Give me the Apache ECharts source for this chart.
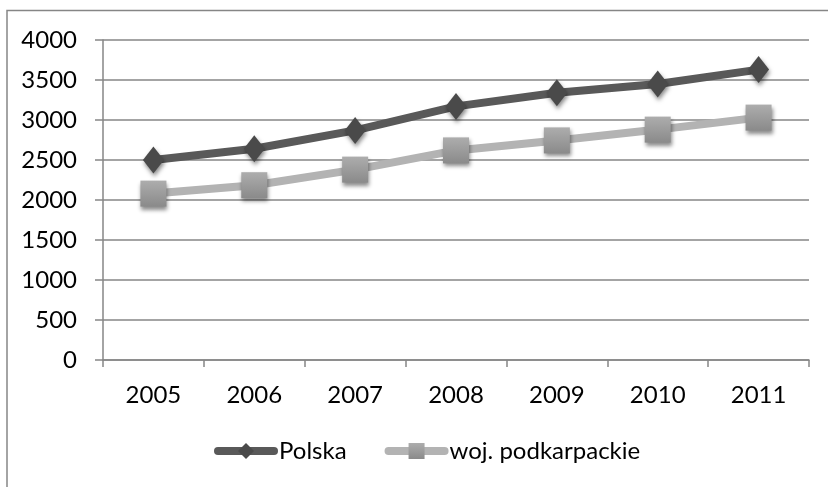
<!DOCTYPE html>
<html>
<head>
<meta charset="utf-8">
<script src="https://cdn.jsdelivr.net/npm/echarts@6/dist/echarts.min.js"></script>
<style>
  html, body { margin: 0; padding: 0; background: #fff; }
  #chart { width: 828px; height: 487px; }
</style>
</head>
<body>
<div id="chart"></div>
<script>
// data
const years = ['2005', '2006', '2007', '2008', '2009', '2010', '2011'];
const polska = [2500, 2640, 2870, 3170, 3340, 3450, 3630];
const podkarpackie = [2080, 2185, 2380, 2620, 2745, 2880, 3030];
const seriesNames = ['Polska', 'woj. podkarpackie'];

const chart = echarts.init(document.getElementById('chart'));
const font = 'Lato, "Open Sans", sans-serif';
const gridColor = '#868686';

const shadow = {
  shadowBlur: 4,
  shadowOffsetX: 1,
  shadowOffsetY: 3,
  shadowColor: 'rgba(0,0,0,0.45)'
};

chart.setOption({
  animation: false,
  backgroundColor: '#fff',
  textStyle: { fontFamily: font },
  graphic: [{
    type: 'rect',
    shape: { x: 7, y: 10.5, width: 840, height: 500 },
    style: { fill: 'none', stroke: gridColor, lineWidth: 1.5 },
    silent: true
  }],
  grid: { left: 103, right: 19, top: 40, height: 320 },
  legend: {
    left: 209,
    top: 434,
    itemWidth: 56,
    itemHeight: 20,
    itemGap: 38,
    textStyle: { fontSize: 24, color: '#000', fontFamily: font },
    data: [
      { name: seriesNames[0], lineStyle: { width: 8 } },
      { name: seriesNames[1], lineStyle: { width: 8 } }
    ]
  },
  xAxis: {
    type: 'category',
    data: years,
    boundaryGap: true,
    axisLine: { lineStyle: { color: gridColor, width: 1.5 } },
    axisTick: { show: true, length: 7, lineStyle: { color: gridColor, width: 1.5 } },
    axisLabel: { fontSize: 24, color: '#000', margin: 23 }
  },
  yAxis: {
    type: 'value',
    min: 0,
    max: 4000,
    interval: 500,
    axisLine: { show: true, lineStyle: { color: gridColor, width: 1.5 } },
    axisTick: { show: true, length: 8, lineStyle: { color: gridColor, width: 1.5 } },
    axisLabel: { fontSize: 24, color: '#000', margin: 26, formatter: v => String(v) },
    splitLine: { lineStyle: { color: gridColor, width: 1.5 } }
  },
  series: [
    {
      name: seriesNames[0],
      type: 'line',
      data: polska,
      symbol: 'diamond',
      symbolSize: [21, 27],
      lineStyle: { color: '#595959', width: 8, cap: 'round' },
      itemStyle: Object.assign({ color: '#4a4a4a' }, shadow),
      z: 3
    },
    {
      name: seriesNames[1],
      type: 'line',
      data: podkarpackie,
      symbol: 'rect',
      symbolSize: [26, 26],
      lineStyle: { color: '#b3b3b3', width: 8, cap: 'round' },
      itemStyle: Object.assign({
        color: new echarts.graphic.LinearGradient(0, 0, 0, 1, [
          { offset: 0, color: '#adadad' },
          { offset: 1, color: '#8a8a8a' }
        ])
      }, shadow),
      z: 2
    }
  ]
});
</script>
</body>
</html>
